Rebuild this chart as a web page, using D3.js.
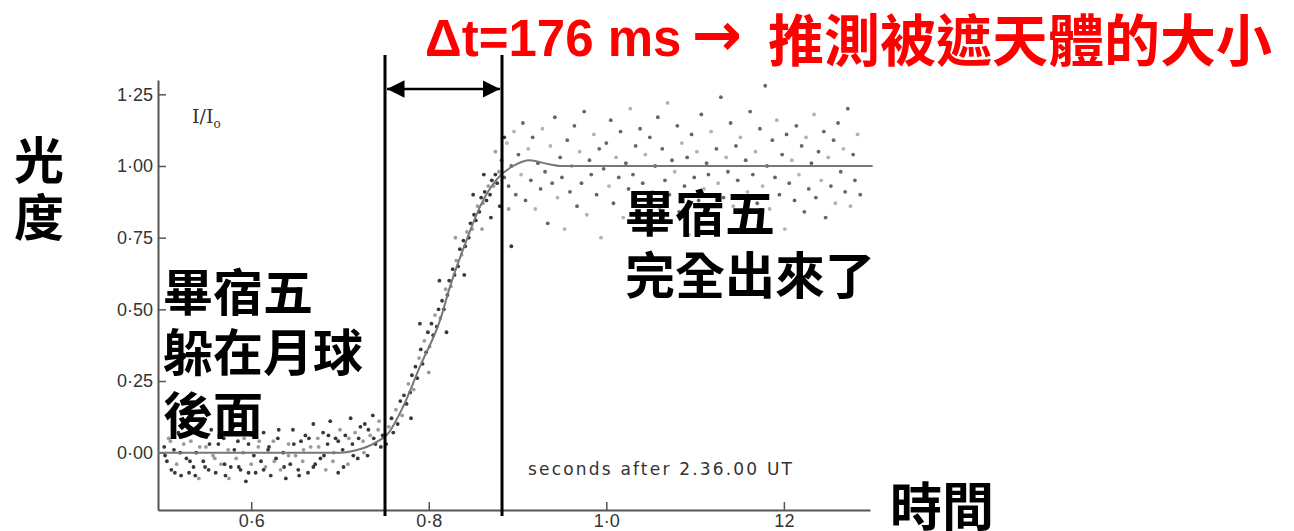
<!DOCTYPE html>
<meta charset="utf-8">
<script src="https://cdn.jsdelivr.net/npm/d3@7"></script>
<style>
  body { margin: 0; background: #fff; }
  .cjk { font-family: "Noto Sans CJK TC", sans-serif; font-weight: 700; }
  .tick text { font-family: "Liberation Sans", Arial, sans-serif; font-size: 18px; fill: #333; }
</style>
<body>
<div id="viz"></div>
<script>
// light curve of a lunar occultation (intensity I/Io vs seconds)
var yTicks = [0, 0.25, 0.5, 0.75, 1.0, 1.25];
var yTickLabels = ["0·00", "0·25", "0·50", "0·75", "1·00", "1·25"];
var xTicks = [0.6, 0.8, 1.0, 1.2];
var xTickLabels = ["0·6", "0·8", "1·0", "12"];

// fitted curve
var curveT = [0.495, 0.60, 0.70, 0.72, 0.74, 0.755, 0.771, 0.79, 0.813, 0.824, 0.843, 0.858, 0.877, 0.895, 0.914, 0.93, 0.95, 1.0, 1.30];
var curveI = [0.0, 0.0, 0.0, 0.01, 0.035, 0.07, 0.16, 0.30, 0.465, 0.58, 0.745, 0.86, 0.955, 1.0, 1.02, 1.01, 1.0, 1.0, 1.0];

// measured points, before the star reappears
var dotsBefore = [
  [0.502,0.02],[0.505,-0.03],[0.507,0.05],[0.51,-0.06],[0.513,0.01],[0.516,-0.04],[0.518,0.07],[0.521,-0.08],[0.524,0.03],[0.527,-0.02],
  [0.53,-0.07],[0.532,0.04],[0.535,-0.05],[0.538,0.0],[0.541,-0.09],[0.543,0.06],[0.546,-0.03],[0.549,0.02],[0.552,-0.06],[0.555,0.08],
  [0.557,-0.01],[0.56,-0.07],[0.563,0.03],[0.566,-0.04],[0.569,0.05],[0.571,-0.08],[0.574,0.01],[0.577,-0.05],[0.58,0.09],[0.583,-0.02],
  [0.585,0.04],[0.588,-0.06],[0.591,0.0],[0.594,-0.1],[0.597,0.03],[0.6,-0.04],[0.602,0.06],[0.605,-0.07],[0.608,0.02],[0.611,-0.03],
  [0.614,0.07],[0.616,-0.05],[0.619,0.01],[0.622,-0.08],[0.625,0.04],[0.628,-0.02],[0.63,0.05],[0.633,-0.06],[0.636,0.0],[0.639,-0.09],
  [0.642,0.03],[0.644,-0.04],[0.647,0.08],[0.65,-0.01],[0.653,-0.06],[0.656,0.04],[0.658,-0.03],[0.661,0.06],[0.664,-0.07],[0.667,0.02],
  [0.67,0.1],[0.672,-0.04],[0.675,0.05],[0.678,-0.02],[0.681,0.07],[0.684,-0.06],[0.686,0.03],[0.689,0.11],[0.692,-0.03],[0.695,0.05],
  [0.698,-0.07],[0.7,0.08],[0.703,0.01],[0.706,0.06],[0.709,-0.04],[0.712,0.12],[0.714,0.03],[0.717,0.07],[0.72,-0.02],[0.723,0.09],
  [0.726,0.04],[0.728,0.1],[0.731,-0.01],[0.734,0.06],[0.737,0.13],[0.74,0.03],[0.743,0.08],[0.746,0.02],
  [0.503,-0.01],[0.509,0.04],[0.514,-0.07],[0.52,0.0],[0.526,0.06],[0.531,-0.03],[0.537,-0.08],[0.542,0.02],[0.548,-0.05],[0.553,0.03],
  [0.559,-0.02],[0.564,0.06],[0.57,-0.04],[0.575,-0.09],[0.581,0.01],[0.586,-0.05],[0.592,0.05],[0.597,-0.07],[0.603,-0.01],[0.609,0.04],
  [0.614,-0.06],[0.62,0.02],[0.626,-0.03],[0.631,0.08],[0.637,-0.05],[0.642,-0.01],[0.648,0.03],[0.654,-0.08],[0.659,0.01],[0.665,0.05],
  [0.67,-0.05],[0.676,0.02],[0.682,-0.01],[0.687,0.06],[0.693,0.0],[0.698,0.04],[0.704,-0.05],[0.71,0.05],[0.715,-0.01],[0.721,0.05],
  [0.727,0.0],[0.732,0.08],[0.738,0.05],[0.744,0.11]
];

// points on the rise
var dotsRise = [
  [0.748,0.06],[0.752,0.03],[0.755,0.09],[0.758,0.12],[0.76,0.07],[0.763,0.15],[0.765,0.1],[0.768,0.18],[0.77,0.13],[0.772,0.2],
  [0.775,0.17],[0.777,0.24],[0.779,0.21],[0.781,0.27],[0.783,0.22],[0.785,0.3],[0.787,0.26],[0.789,0.33],[0.791,0.36],[0.793,0.31],
  [0.795,0.39],[0.797,0.35],[0.799,0.42],[0.801,0.37],[0.803,0.45],[0.805,0.41],[0.807,0.48],[0.809,0.44],[0.811,0.5],[0.813,0.47],
  [0.815,0.53],[0.817,0.5],[0.819,0.57],[0.821,0.55],[0.823,0.6],[0.825,0.58],[0.827,0.64],[0.829,0.62],[0.831,0.67],[0.833,0.65],
  [0.835,0.71],[0.837,0.69],[0.839,0.74],[0.841,0.72],[0.843,0.77],[0.845,0.75],[0.847,0.8],[0.849,0.78],[0.851,0.83],[0.853,0.81],
  [0.855,0.86],[0.857,0.84],[0.859,0.89],[0.861,0.87],[0.863,0.91],[0.865,0.88],[0.867,0.93],[0.869,0.9],[0.871,0.95],[0.873,0.93],
  [0.875,0.97],[0.877,0.94],[0.879,0.98],
  [0.78,0.12],[0.79,0.45],[0.80,0.28],[0.812,0.6],[0.82,0.42],[0.83,0.75],[0.84,0.62],[0.85,0.9],[0.86,0.78],[0.862,0.97],
  [0.87,0.82],[0.875,1.05],[0.88,0.86],[0.885,1.1],[0.89,0.85],[0.893,0.72]
];

// points after the star is fully out
var dotsAfter = [
  [0.882,1.02],[0.885,0.96],[0.888,1.08],[0.89,0.93],[0.893,1.0],[0.896,1.12],[0.898,0.9],[0.901,1.04],[0.904,0.97],[0.906,1.15],
  [0.909,0.88],[0.912,1.06],[0.915,0.95],[0.917,1.1],[0.92,0.85],[0.923,1.01],[0.926,0.92],[0.928,1.13],[0.931,0.98],[0.934,0.8],
  [0.937,1.07],[0.939,0.94],[0.942,1.17],[0.945,0.89],[0.948,1.03],[0.95,0.96],[0.953,0.78],[0.956,1.09],[0.959,0.91],[0.961,1.0],
  [0.964,1.14],[0.967,0.86],[0.97,1.05],[0.972,0.94],[0.975,1.19],[0.978,0.83],[0.981,1.02],[0.983,0.97],[0.986,1.11],[0.989,0.9],
  [0.992,1.06],[0.994,0.75],[0.997,0.99],[1.0,1.08],[1.003,0.93],[1.005,1.16],[1.008,0.87],[1.011,1.03],[1.014,0.96],[1.016,1.12],
  [1.019,0.82],[1.022,1.01],[1.025,0.92],[1.027,1.2],[1.03,0.97],[1.033,1.07],[1.036,0.88],[1.038,1.13],[1.041,0.94],[1.044,1.04],
  [1.047,0.79],[1.049,1.1],[1.052,0.91],[1.055,1.0],[1.058,1.17],[1.06,0.85],[1.063,1.06],[1.066,0.95],[1.069,1.22],[1.071,0.9],
  [1.074,1.02],[1.077,0.98],[1.08,1.14],[1.082,0.84],[1.085,1.08],[1.088,0.93],[1.091,1.03],[1.093,0.76],[1.096,1.11],[1.099,0.96],
  [1.102,1.05],[1.104,0.88],[1.107,1.18],[1.11,0.92],[1.113,1.01],[1.115,0.97],[1.118,1.12],[1.121,0.83],[1.124,1.06],[1.126,0.94],
  [1.129,1.24],[1.132,0.89],[1.135,1.03],[1.137,0.98],[1.14,1.15],[1.143,0.86],[1.146,1.07],[1.148,0.95],[1.151,1.1],[1.154,0.81],
  [1.157,1.02],[1.159,0.91],[1.162,1.19],[1.165,0.97],[1.168,1.05],[1.17,0.87],[1.173,1.13],[1.176,0.93],[1.179,1.28],[1.181,1.0],
  [1.184,0.85],[1.187,1.09],[1.19,0.96],[1.192,1.16],[1.195,0.9],[1.198,1.04],[1.201,0.78],[1.203,1.11],[1.206,0.94],[1.209,1.02],
  [1.212,0.88],[1.214,1.14],[1.217,0.97],[1.22,1.07],[1.223,0.84],[1.225,1.1],[1.228,0.92],[1.231,1.01],[1.234,1.18],[1.236,0.89],
  [1.239,1.05],[1.242,0.95],[1.245,1.12],[1.247,0.82],[1.25,1.03],[1.253,0.93],[1.256,1.09],[1.258,0.87],[1.261,1.15],[1.264,0.98],
  [1.267,1.06],[1.269,0.91],[1.272,1.2],[1.275,0.86],[1.278,1.04],[1.28,0.95],[1.283,1.11],[1.286,0.9]
];

// the two marker times bounding the rise
var markT = [0.7507, 0.8825];

var width = 1294, height = 531;

var svg = d3.select("#viz").append("svg")
  .attr("width", width)
  .attr("height", height);

var x = d3.scaleLinear().domain([0.495, 1.297]).range([158, 870]);
var y = d3.scaleLinear().domain([-0.2, 1.3]).range([510, 80]);

// axes
svg.append("g")
  .attr("transform", "translate(" + x.range()[0] + ",0)")
  .call(d3.axisLeft(y).tickValues(yTicks).tickSize(-8).tickSizeOuter(0).tickPadding(5)
    .tickFormat(function(d, i) { return yTickLabels[i]; }));

svg.append("g")
  .attr("transform", "translate(0," + y.range()[0] + ")")
  .call(d3.axisBottom(x).tickValues(xTicks).tickSize(-8).tickSizeOuter(0).tickPadding(4)
    .tickFormat(function(d, i) { return xTickLabels[i]; }));

svg.selectAll(".domain").attr("stroke", "#555").attr("stroke-width", 2);
svg.selectAll(".tick line").attr("stroke", "#555").attr("stroke-width", 1.5);

// dots
function drawDots(data, col, op) {
  svg.append("g").selectAll("circle")
    .data(data)
    .enter()
    .append("circle")
    .attr("cx", function(d) { return x(d[0]); })
    .attr("cy", function(d) { return y(d[1]); })
    .attr("r", 1.9)
    .attr("fill", col)
    .attr("opacity", function(d, i) { return i % 3 == 2 ? op * 0.5 : op; });
}
drawDots(dotsBefore, "#222", 0.9);
drawDots(dotsRise, "#222", 0.9);
drawDots(dotsAfter, "#333", 0.75);

// fitted curve
var line = d3.line()
  .x(function(d) { return x(d[0]); })
  .y(function(d) { return y(d[1]); })
  .curve(d3.curveMonotoneX);

svg.append("path")
  .datum(d3.zip(curveT, curveI))
  .attr("d", line)
  .attr("fill", "none")
  .attr("stroke", "#777")
  .attr("stroke-width", 2);

// marker lines + double arrow
svg.selectAll(".mark")
  .data(markT)
  .enter()
  .append("line")
  .attr("x1", function(d) { return x(d); })
  .attr("x2", function(d) { return x(d); })
  .attr("y1", 55)
  .attr("y2", 516)
  .attr("stroke", "#000")
  .attr("stroke-width", 3);

var defs = svg.append("defs");
defs.append("marker")
  .attr("id", "head")
  .attr("viewBox", "0 0 10 10")
  .attr("refX", 10).attr("refY", 5)
  .attr("markerWidth", 7).attr("markerHeight", 7)
  .attr("markerUnits", "strokeWidth")
  .attr("orient", "auto-start-reverse")
  .append("path")
  .attr("d", "M0,0L10,5L0,10Z")
  .attr("fill", "#000");

svg.append("line")
  .attr("x1", x(markT[0]) + 2)
  .attr("x2", x(markT[1]) - 2)
  .attr("y1", 89).attr("y2", 89)
  .attr("stroke", "#000")
  .attr("stroke-width", 2.5)
  .attr("marker-start", "url(#head)")
  .attr("marker-end", "url(#head)");

// small labels inside the plot
var io = svg.append("text")
  .attr("x", 192).attr("y", 123)
  .style("font-family", "'DejaVu Serif', serif")
  .style("font-size", "19px")
  .style("fill", "#333")
  .text("I/I");
io.append("tspan").attr("dy", 5).style("font-size", "12px").text("o");

svg.append("text")
  .attr("x", 528).attr("y", 475)
  .attr("textLength", 264)
  .style("font-family", "'DejaVu Sans', sans-serif")
  .style("font-size", "17px")
  .style("fill", "#333")
  .text("seconds after 2.36.00  UT");

// title
svg.append("text")
  .attr("x", 425).attr("y", 56)
  .style("font-family", "'Liberation Sans', Arial, sans-serif")
  .style("font-weight", "700")
  .style("font-size", "51px")
  .style("fill", "#f00")
  .text("Δt=176 ms");
svg.append("text")
  .attr("x", 692).attr("y", 55)
  .style("font-family", "'DejaVu Sans', sans-serif")
  .style("font-weight", "700")
  .style("font-size", "60px")
  .style("fill", "#f00")
  .text("→");
svg.append("text")
  .attr("class", "cjk")
  .attr("x", 768).attr("y", 36)
  .attr("dominant-baseline", "central")
  .style("font-size", "56px")
  .style("fill", "#f00")
  .text("推測被遮天體的大小");

// axis titles and annotations
function cjk(str, px, py, size) {
  svg.append("text")
    .attr("class", "cjk")
    .attr("x", px).attr("y", py)
    .attr("dominant-baseline", "central")
    .style("font-size", size + "px")
    .style("fill", "#000")
    .text(str);
}
cjk("光", 14, 157, 50);
cjk("度", 14, 214, 50);
cjk("畢宿五", 163, 289, 50);
cjk("躲在月球", 163, 349, 50);
cjk("後面", 163, 412, 50);
cjk("畢宿五", 625, 210, 50);
cjk("完全出來了", 625, 272, 50);
cjk("時間", 890, 503, 52);
</script>
</body>
